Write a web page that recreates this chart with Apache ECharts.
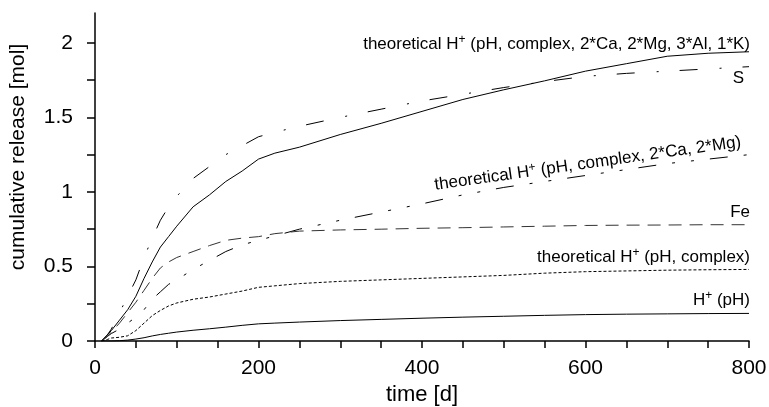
<!DOCTYPE html>
<html><head><meta charset="utf-8">
<script src="https://cdn.jsdelivr.net/npm/echarts@6/dist/echarts.min.js"></script>
<style>html,body{margin:0;padding:0;background:#fff}#c{width:769px;height:407px}</style>
</head><body><div id="c"></div>
<script>
var times = [8,15,20,30,40,50,60,70,80,90,100,120,140,160,180,200,220,250,300,350,400,450,500,550,600,650,700,750,800];
var theoAll = [0,0.04,0.07,0.14,0.21,0.30,0.42,0.53,0.63,0.70,0.77,0.90,0.98,1.07,1.14,1.22,1.26,1.30,1.385,1.46,1.54,1.62,1.685,1.745,1.81,1.86,1.91,1.93,1.94];
var sulfur = [0,0.04,0.08,0.19,0.30,0.41,0.56,0.69,0.81,0.90,0.97,1.09,1.17,1.25,1.31,1.37,1.40,1.44,1.50,1.555,1.61,1.655,1.70,1.74,1.775,1.795,1.81,1.825,1.84];
var theoCaMg = [0,0.03,0.05,0.08,0.12,0.16,0.21,0.28,0.33,0.38,0.41,0.48,0.54,0.60,0.645,0.675,0.705,0.75,0.81,0.865,0.92,0.98,1.03,1.07,1.11,1.15,1.19,1.22,1.25];
var iron = [0,0.03,0.06,0.12,0.19,0.26,0.34,0.42,0.49,0.53,0.56,0.60,0.64,0.675,0.69,0.70,0.72,0.737,0.745,0.75,0.756,0.76,0.765,0.77,0.775,0.777,0.778,0.78,0.78];
var theoComplex = [0,0.01,0.02,0.025,0.035,0.07,0.12,0.17,0.205,0.235,0.255,0.28,0.295,0.315,0.335,0.36,0.37,0.385,0.40,0.41,0.42,0.43,0.44,0.455,0.465,0.47,0.475,0.478,0.48];
var hPH = [0,0,0,0.002,0.006,0.013,0.022,0.034,0.044,0.052,0.06,0.072,0.082,0.093,0.105,0.115,0.12,0.127,0.137,0.145,0.153,0.16,0.166,0.172,0.177,0.18,0.182,0.184,0.185];
var xTicks = [0,50,100,150,200,250,300,350,400,450,500,550,600,650,700,750,800];
var xLabels = [0,200,400,600,800];
var yTicks = [0,0.25,0.5,0.75,1,1.25,1.5,1.75,2];
var yLabels = [0,0.5,1,1.5,2];

function pairs(v){ return times.map(function(t,i){ return [t, v[i]]; }); }
var FONT = '"Liberation Sans", Arial, sans-serif';
function line(name, data, type, color){
  return {name:name, type:'line', data:pairs(data), symbol:'none', smooth:false,
    lineStyle:{color:color||'#000', width:1, type:type}, silent:true, animation:false};
}
var chart = echarts.init(document.getElementById('c'));
var supRich = {sup:{fontSize:12, fontFamily:FONT, verticalAlign:'top', lineHeight:20, fill:'#000'}};
function lbl(text, x, y, align, rot){
  return {type:'text', x:x, y:y, rotation:rot||0, silent:true,
    style:{text:text, fontSize:17, fontFamily:FONT, fill:'#000', align:align||'right', verticalAlign:'middle', lineHeight:20, rich:supRich}};
}
chart.setOption({
  animation:false,
  backgroundColor:'#fff',
  grid:{left:95, right:20, top:13, bottom:66, containLabel:false, outerBoundsMode:'none'},
  xAxis:{type:'value', min:0, max:800, interval:50,
    axisLine:{lineStyle:{color:'#000', width:1.5}},
    axisTick:{customValues:xTicks, length:7, lineStyle:{color:'#000', width:1.5}},
    axisLabel:{customValues:xLabels, color:'#000', fontSize:21, fontFamily:FONT, margin:17},
    splitLine:{show:false},
    name:'time [d]', nameLocation:'middle', nameGap:42,
    nameTextStyle:{color:'#000', fontSize:22, fontFamily:FONT}},
  yAxis:{type:'value', min:0, max:2.2, interval:0.25,
    axisLine:{show:true, lineStyle:{color:'#000', width:1.5}},
    axisTick:{show:true, customValues:yTicks, length:8, lineStyle:{color:'#000', width:1.5}},
    axisLabel:{customValues:yLabels, color:'#000', fontSize:21, fontFamily:FONT, margin:22},
    splitLine:{show:false}},
  graphic:[
    {type:'text', x:18, y:157, rotation:Math.PI/2, silent:true,
      style:{text:'cumulative release [mol]', fontSize:21, fontFamily:FONT, fill:'#000', align:'center', verticalAlign:'middle'}},
    lbl('theoretical H{sup|+} (pH, complex, 2*Ca, 2*Mg, 3*Al, 1*K)', 750, 44),
    lbl('S', 744, 78),
    lbl('theoretical H{sup|+} (pH, complex, 2*Ca, 2*Mg)', 741, 142, 'right', 0.14),
    lbl('Fe', 750, 212),
    lbl('theoretical H{sup|+} (pH, complex)', 750, 257),
    lbl('H{sup|+} (pH)', 750, 300)
  ],
  series:[
    line('theoretical H+ (pH, complex, 2*Ca, 2*Mg, 3*Al, 1*K)', theoAll, 'solid'),
    line('S', sulfur, [18,22,2,21]),
    line('theoretical H+ (pH, complex, 2*Ca, 2*Mg)', theoCaMg, [18,16,3,16,3,16]),
    line('Fe', iron, [13,8], '#333'),
    line('theoretical H+ (pH, complex)', theoComplex, [3,2]),
    line('H+ (pH)', hPH, 'solid')
  ]
});
</script></body></html>
